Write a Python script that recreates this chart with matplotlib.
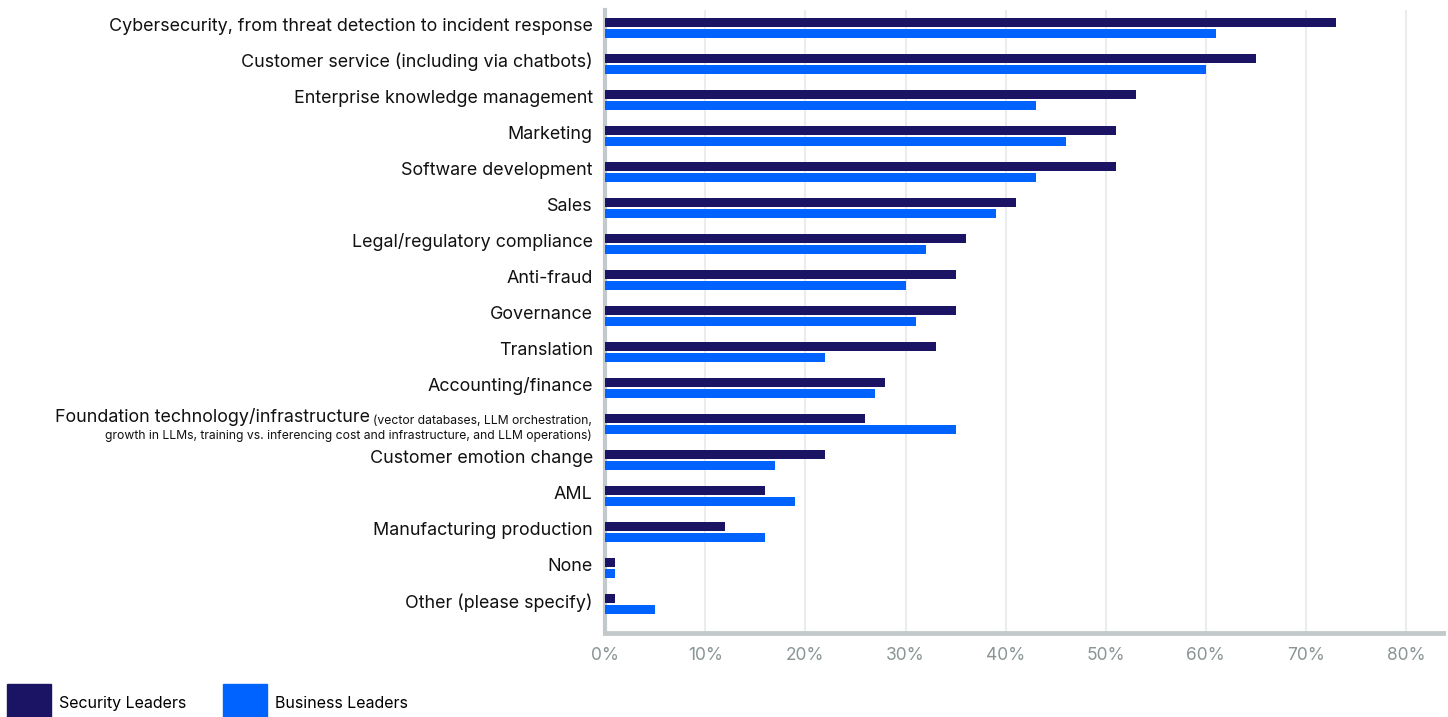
import numpy as np
import matplotlib
matplotlib.use("Agg")
import matplotlib.pyplot as plt
from matplotlib.patches import Patch
from matplotlib.transforms import blended_transform_factory, offset_copy

plt.rcParams['font.family'] = ['Inter', 'DejaVu Sans']

categories = [
    "Cybersecurity, from threat detection to incident response",
    "Customer service (including via chatbots)",
    "Enterprise knowledge management",
    "Marketing",
    "Software development",
    "Sales",
    "Legal/regulatory compliance",
    "Anti-fraud",
    "Governance",
    "Translation",
    "Accounting/finance",
    "Foundation technology/infrastructure",
    "Customer emotion change",
    "AML",
    "Manufacturing production",
    "None",
    "Other (please specify)",
]
foundation_note = ["(vector databases, LLM orchestration,",
                   "growth in LLMs, training vs. inferencing cost and infrastructure, and LLM operations)"]
security = [73, 65, 53, 51, 51, 41, 36, 35, 35, 33, 28, 26, 22, 16, 12, 1, 1]
business = [61, 60, 43, 46, 43, 39, 32, 30, 31, 22, 27, 35, 17, 19, 16, 1, 5]
xticks = [0, 10, 20, 30, 40, 50, 60, 70, 80]

dark = "#1b1464"
blue = "#0062ff"
grey_txt = "#8a9494"
txt = "#111111"

fig = plt.figure(figsize=(14.48, 7.17), dpi=100)
ax = fig.add_axes([0.418, 0.117, 0.5785, 0.869])

y = np.arange(len(categories))
h = 0.25
off = 0.153
ax.barh(y - off, security, height=h, color=dark, zorder=3)
ax.barh(y + off, business, height=h, color=blue, zorder=3)

ax.set_xlim(0, 83.7)
ax.set_ylim(16.8, -0.5)
ax.set_xticks(xticks)
ax.set_xticklabels([f"{v}%" for v in xticks], color=grey_txt, fontsize=12.5)
ax.tick_params(axis='x', length=0, pad=10)

# foundation row gets a custom two-size label below
labels = [c if i != 11 else "" for i, c in enumerate(categories)]
ax.set_yticks(y - 0.11)
ax.set_yticklabels(labels, fontsize=12.9, color=txt)
ax.tick_params(axis='y', length=0, pad=9)

ax.grid(axis='x', color="#e9eded", linewidth=1.5, zorder=0)
for s in ['top', 'right']:
    ax.spines[s].set_visible(False)
ax.spines['left'].set_color("#c3c9cb")
ax.spines['left'].set_linewidth(3)
ax.spines['bottom'].set_color("#c3c9cb")
ax.spines['bottom'].set_linewidth(3.5)

tr = blended_transform_factory(ax.transAxes, ax.transData)
tr = offset_copy(tr, fig=fig, x=-9.5, y=0, units='points')
note1 = ax.text(0, 11 - 0.09, foundation_note[0], transform=tr, ha='right', va='center',
                fontsize=8.75, color=txt)
ax.text(0, 11 + 0.33, foundation_note[1], transform=tr, ha='right', va='center',
        fontsize=8.75, color=txt)
ax.annotate(categories[11], xy=(0, 0.05), xycoords=note1, ha='right', va='bottom',
            fontsize=12.9, color=txt, xytext=(-2, 0), textcoords='offset points')

handles = [Patch(color=dark, label="Security Leaders"), Patch(color=blue, label="Business Leaders")]
fig.legend(handles=handles, loc='upper left', bbox_to_anchor=(0.005, 0.046), ncol=2,
           frameon=False, fontsize=11.5, handlelength=2.75, handleheight=3.3,
           handletextpad=0.5, columnspacing=2.3, borderpad=0, borderaxespad=0)

fig.savefig("out.png", dpi=100)
